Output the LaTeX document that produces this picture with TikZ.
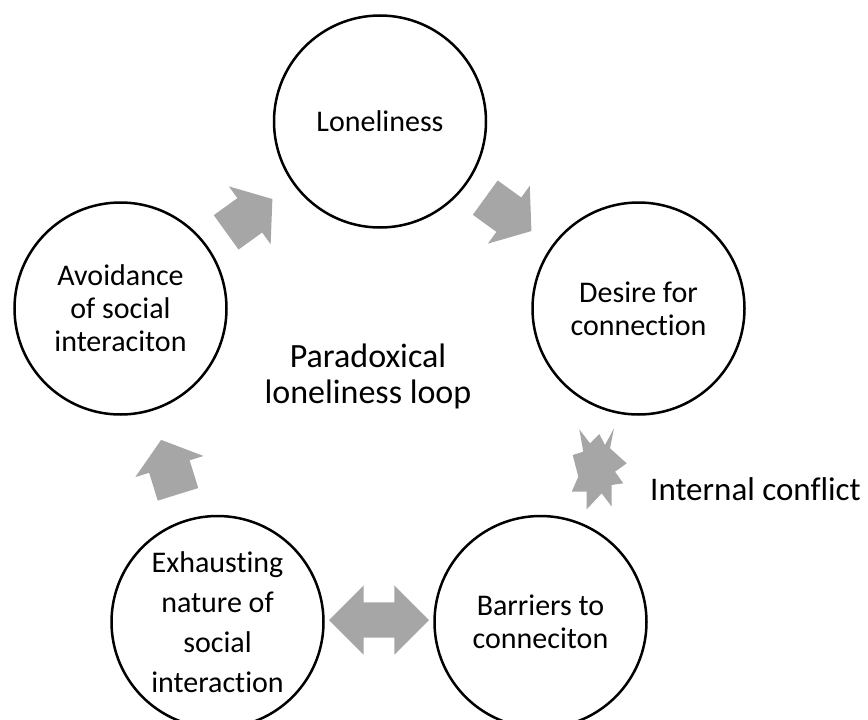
\documentclass[tikz,border=0pt]{standalone}
\usepackage{fontspec}
\setmainfont{Carlito}[Ligatures={NoCommon}]
\usetikzlibrary{positioning, calc, shapes.arrows}

\definecolor{arrowgray}{RGB}{166,166,166}
\tikzset{
	bubble/.style={circle, draw, line width=2.5pt, minimum size=212pt, inner sep=0pt, align=center, font=\fontsize{30}{33}\selectfont},
	flow/.style={single arrow, fill=arrowgray, draw=none, sloped, allow upside down, pos=0.41, inner xsep=0pt, inner ysep=21pt, minimum height=57pt, single arrow head extend=14.5pt, single arrow tip angle=104},
	twoway/.style={double arrow, fill=arrowgray, draw=none, sloped, inner xsep=0pt, inner ysep=17.5pt, minimum height=100pt, double arrow head extend=17pt, double arrow tip angle=90},
	caption/.style={inner sep=0pt, align=center, font=\fontsize{34}{36}\selectfont}
}

\begin{document}
\begin{tikzpicture}[x=1pt, y=-1pt]
	\useasboundingbox (0,0) rectangle (868,720);

	\node[bubble] (lonely) at (380,121.5) {Loneliness};
	\node[bubble] (desire) at (638.5,308.5) {Desire for\\connection};
	\node[bubble] (avoid) at (120.5,308.5) {Avoidance\\of social\\interaciton};
	\node[bubble, font=\fontsize{30}{40}\selectfont] (exhaust) at (217.5,622) {Exhausting\\nature of\\social\\interaction};
	\node[bubble] (barrier) at (540.5,622) {Barriers to\\conneciton};

	\node[caption] (loop) at (368,376) {Paradoxical\\loneliness loop};

	\path (avoid) -- node[flow] (a1) {} (lonely);
	\path (lonely) -- node[flow] (a2) {} (desire);
	\path (exhaust) -- node[flow] (a3) {} (avoid);
	\path (exhaust) -- node[twoway, yshift=2pt] (a4) {} (barrier);

	\coordinate (burst) at (598,467);
	\fill[arrowgray, shift={(burst)}]
	    (-18.7,-37.7) -- (-8,-23.7) -- (1.3,-33) -- (7,-22) -- (16,-38.7) -- (12,-18.7)
	    -- (28.7,-3.7) -- (17,4.7) -- (25.3,16.3) -- (13.7,18) -- (13.7,39.7) -- (3.7,26.3)
	    -- (-11.3,42.3) -- (-11.3,24.7) -- (-26.3,24.7) -- (-19.7,9.7) -- (-25.3,-12) -- (-14.7,-15.3) -- cycle;
	\node[caption, anchor=west, font=\fontsize{33}{33}\selectfont] (conflict) at (650,489) {Internal conflict};
\end{tikzpicture}
\end{document}
